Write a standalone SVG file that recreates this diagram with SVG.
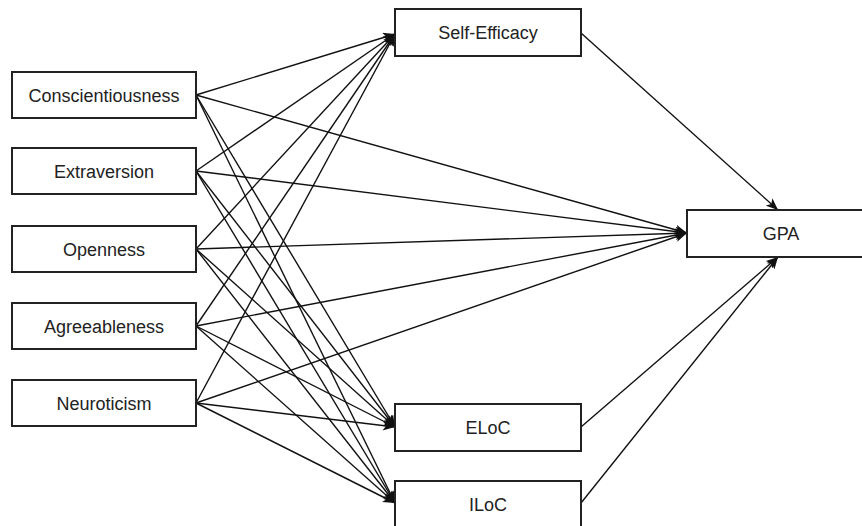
<svg xmlns="http://www.w3.org/2000/svg" width="862" height="526" viewBox="0 0 862 526">
<defs>
<marker id="arr" viewBox="0 0 12 10" refX="12" refY="5" markerWidth="12" markerHeight="10" markerUnits="userSpaceOnUse" orient="auto">
<path d="M0,0 L12,5 L0,10 L3,5 Z" fill="#111"/>
</marker>
<style>
.box{fill:#fff;stroke:#222;stroke-width:2}
.lbl{font-family:"Liberation Sans",Arial,sans-serif;font-size:18px;fill:#222;text-anchor:middle}
.edge{stroke:#111;stroke-width:1.4;fill:none;marker-end:url(#arr)}
</style>
</defs>
<rect width="862" height="526" fill="#fff"/>
<g id="connectors">
<line class="edge" x1="196" y1="95" x2="395" y2="34"/>
<line class="edge" x1="196" y1="95" x2="687" y2="233"/>
<line class="edge" x1="196" y1="95" x2="395" y2="427"/>
<line class="edge" x1="196" y1="95" x2="395" y2="503"/>
<line class="edge" x1="196" y1="171" x2="395" y2="34"/>
<line class="edge" x1="196" y1="171" x2="687" y2="233"/>
<line class="edge" x1="196" y1="171" x2="395" y2="427"/>
<line class="edge" x1="196" y1="171" x2="395" y2="503"/>
<line class="edge" x1="196" y1="249" x2="395" y2="34"/>
<line class="edge" x1="196" y1="249" x2="687" y2="233"/>
<line class="edge" x1="196" y1="249" x2="395" y2="427"/>
<line class="edge" x1="196" y1="249" x2="395" y2="503"/>
<line class="edge" x1="196" y1="326" x2="395" y2="34"/>
<line class="edge" x1="196" y1="326" x2="687" y2="233"/>
<line class="edge" x1="196" y1="326" x2="395" y2="427"/>
<line class="edge" x1="196" y1="326" x2="395" y2="503"/>
<line class="edge" x1="196" y1="403" x2="395" y2="34"/>
<line class="edge" x1="196" y1="403" x2="687" y2="233"/>
<line class="edge" x1="196" y1="403" x2="395" y2="427"/>
<line class="edge" x1="196" y1="403" x2="395" y2="503"/>
<line class="edge" x1="581" y1="33" x2="778" y2="210"/>
<line class="edge" x1="581" y1="427" x2="778" y2="257"/>
<line class="edge" x1="581" y1="503" x2="778" y2="257"/>
</g>
<g id="conscientiousness"><rect class="box" x="12" y="72" width="184" height="46"/><text class="lbl" x="104" y="101.5">Conscientiousness</text></g>
<g id="extraversion"><rect class="box" x="12" y="148" width="184" height="46"/><text class="lbl" x="104" y="177.5">Extraversion</text></g>
<g id="openness"><rect class="box" x="12" y="226" width="184" height="46"/><text class="lbl" x="104" y="255.5">Openness</text></g>
<g id="agreeableness"><rect class="box" x="12" y="303" width="184" height="46"/><text class="lbl" x="104" y="332.5">Agreeableness</text></g>
<g id="neuroticism"><rect class="box" x="12" y="380" width="184" height="46"/><text class="lbl" x="104" y="409.5">Neuroticism</text></g>
<g id="self-efficacy"><rect class="box" x="395" y="9" width="186" height="47"/><text class="lbl" x="488" y="39">Self-Efficacy</text></g>
<g id="eloc"><rect class="box" x="395" y="404" width="186" height="47"/><text class="lbl" x="488" y="434">ELoC</text></g>
<g id="iloc"><rect class="box" x="395" y="481" width="186" height="46"/><text class="lbl" x="488" y="511">ILoC</text></g>
<g id="gpa"><rect class="box" x="687" y="210" width="188" height="47"/><text class="lbl" x="781" y="240">GPA</text></g>
</svg>
